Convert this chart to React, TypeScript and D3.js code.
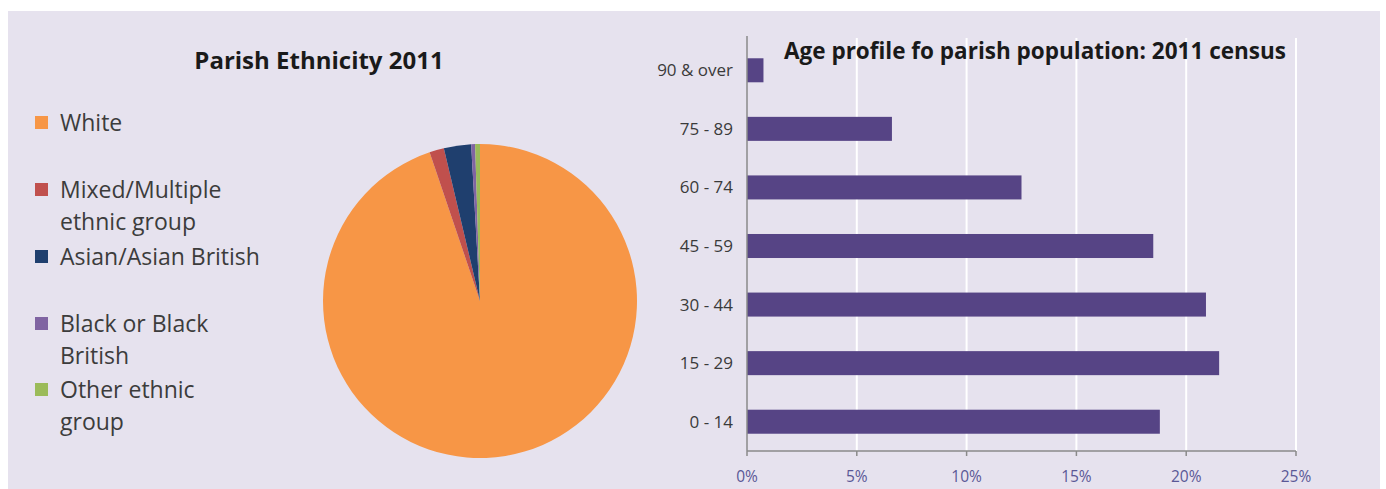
import React from "react";
import * as d3 from "d3";

// pie data (Parish Ethnicity 2011), percent
const ethnicGroups = ["White", "Mixed/Multiple ethnic group", "Asian/Asian British", "Black or Black British", "Other ethnic group"];
const ethnicShares = [94.8, 1.5, 2.8, 0.4, 0.5];
const ethnicColors = ["#f79646", "#c0504d", "#1f3f6e", "#8064a2", "#9bbb59"];
// legend text wrapped as in the original
const legendLines = [["White"], ["Mixed/Multiple", "ethnic group"], ["Asian/Asian British"], ["Black or Black", "British"], ["Other ethnic", "group"]];
const legendBaselines = [131, 198, 265, 332, 398];

// bar data (age profile), fractions
const ageBands = ["90 & over", "75 - 89", "60 - 74", "45 - 59", "30 - 44", "15 - 29", "0 - 14"];
const ageShares = [0.0075, 0.066, 0.125, 0.185, 0.209, 0.215, 0.188];
const xTicks = [0, 0.05, 0.1, 0.15, 0.2, 0.25];

const W = 1386;
const H = 489;
const FONT = "'Open Sans', 'Noto Sans', sans-serif";

export default function App() {
  // pie
  const cx = 480;
  const cy = 301;
  const r = 157;
  const pie = d3.pie<number>().sort(null).value((d) => d)(ethnicShares);
  const arc = d3.arc<d3.PieArcDatum<number>>().innerRadius(0).outerRadius(r);

  // bars
  const x = d3.scaleLinear().domain([0, 0.25]).range([747, 1296]);
  const y = d3.scaleBand<string>().domain(ageBands).range([41, 451]).paddingInner(0.59).paddingOuter(0.295);
  const fmt = d3.format(".0%");

  return (
    <svg width={W} height={H} style={{ position: "absolute", left: 0, top: 0, display: "block" }} fontFamily={FONT}>
      <rect x={0} y={0} width={W} height={H} fill="#ffffff" />
      <rect x={8} y={11} width={1372} height={H - 11} fill="#e6e2ee" />

      {/* left: pie */}
      <text x={319} y={69} textAnchor="middle" fontSize={24} fontWeight="bold" fill="#1a1a1a">
        Parish Ethnicity 2011
      </text>
      {legendLines.map((lines, i) => (
        <g key={ethnicGroups[i]}>
          <rect x={35} y={legendBaselines[i] - 15} width={13} height={13} fill={ethnicColors[i]} />
          {lines.map((ln, j) => (
            <text key={ln} x={60} y={legendBaselines[i] + j * 32} fontSize={23} fill="#3c3c3c">
              {ln}
            </text>
          ))}
        </g>
      ))}
      <g transform={`translate(${cx},${cy})`}>
        {pie.map((d, i) => (
          <path key={ethnicGroups[i]} d={arc(d) || ""} fill={ethnicColors[i]} />
        ))}
      </g>

      {/* right: bars */}
      {xTicks.slice(1).map((t) => (
        <line key={t} x1={x(t)} x2={x(t)} y1={38} y2={451} stroke="#ffffff" strokeWidth={2} />
      ))}
      <text x={1035} y={59} textAnchor="middle" fontSize={22.5} fontWeight="bold" fill="#1a1a1a">
        Age profile fo parish population: 2011 census
      </text>
      {ageBands.map((a, i) => (
        <g key={a}>
          <rect x={x(0)} y={y(a)} width={x(ageShares[i]) - x(0)} height={y.bandwidth()} fill="#564485" />
          <text x={733} y={(y(a) || 0) + y.bandwidth() / 2 + 6} textAnchor="end" fontSize={17} fill="#3a3a3a">
            {a}
          </text>
        </g>
      ))}
      <line x1={x(0)} x2={x(0)} y1={36} y2={451} stroke="#8a8a8a" strokeWidth={1.5} />
      <line x1={x(0)} x2={x(0.25)} y1={451} y2={451} stroke="#8a8a8a" strokeWidth={1.5} />
      {xTicks.map((t) => (
        <g key={t}>
          <line x1={x(t)} x2={x(t)} y1={451} y2={456} stroke="#8a8a8a" strokeWidth={1.5} />
          <text x={x(t)} y={482} textAnchor="middle" fontSize={15.5} fill="#5a5896">
            {fmt(t)}
          </text>
        </g>
      ))}
    </svg>
  );
}
